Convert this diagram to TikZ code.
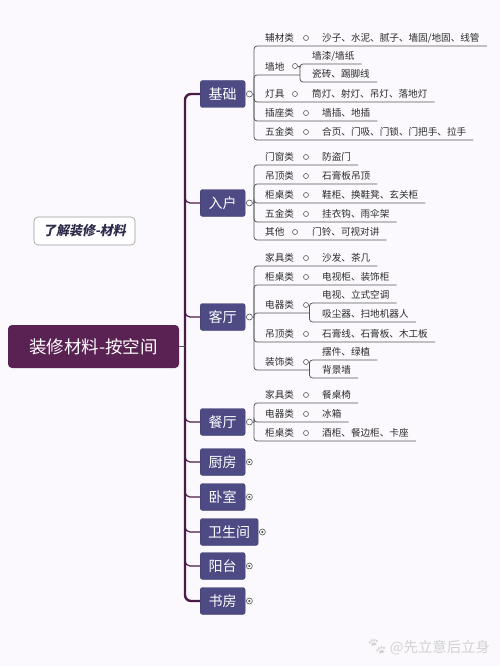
\documentclass[tikz,border=0pt]{standalone}
\usepackage{fontspec}
\setmainfont{Noto Sans CJK SC}
\newfontfamily\labelfont[FakeSlant=0.2]{Noto Sans CJK SC}
\newfontfamily\emojifont{Noto Emoji}
\definecolor{bgc}{HTML}{FBF9FD}
\definecolor{rootc}{HTML}{5A2153}
\definecolor{boxc}{HTML}{4D4A84}
\definecolor{boxd}{HTML}{3E3B70}
\definecolor{trunkc}{HTML}{4A1C45}
\definecolor{subc}{HTML}{555555}
\definecolor{txtc}{HTML}{2B2B2B}
\definecolor{labc}{HTML}{2E2C4C}
\tikzset{
  rootbox/.style={fill=rootc, rounded corners=4pt, text=white, inner sep=0pt,
    minimum width=171pt, minimum height=43pt, font=\fontsize{17.5}{18}\selectfont},
  labbox/.style={fill=white, draw=gray!80, line width=0.6pt, rounded corners=4pt,
    minimum width=101pt, minimum height=28pt, inner sep=0pt, text=labc,
    font=\fontsize{13}{14}\selectfont\labelfont\bfseries},
  brbox/.style={fill=boxc, draw=boxd, line width=0.4pt, rounded corners=2.5pt, text=white,
    inner xsep=8pt, inner ysep=0pt, minimum width=45pt, minimum height=27pt,
    anchor=west, font=\fontsize{14}{14}\selectfont},
  bmark/.style={circle, draw=subc, fill=white, line width=0.6pt, inner sep=0pt, minimum size=6pt},
  cmark/.style={bmark, path picture={\fill[subc] (path picture bounding box.center) circle (1.2pt);}},
  lmark/.style={circle, draw=subc, fill=white, line width=0.6pt, inner sep=0pt, minimum size=5pt},
  cat/.style={anchor=west, inner sep=0pt, text=txtc, font=\fontsize{9.6}{10}\selectfont},
  trunk/.style={draw=trunkc, line width=2.4pt},
  branch/.style={draw=trunkc, line width=1.2pt},
  rootlink/.style={draw=subc, line width=0.7pt},
  sub/.style={draw=subc, line width=0.75pt, rounded corners=3pt},
  wm/.style={text=gray!35, inner sep=0pt, font=\fontsize{14.4}{15}\selectfont}
}
% name, junction, y, category, marker x, leaf x, leaf text
\newcommand{\leafrow}[7]{%
  \node[cat] (#1) at (265,#3) {#4};
  \node[lmark] (#1m) at (#5,#3) {};
  \node[cat] (#1l) at (#6,#3) {#7};
  \draw[sub] (#2) |- ([xshift=7pt,yshift=-8pt]#1l.east);
}
% name, junction, y, text, child junction
\newcommand{\catonly}[5]{%
  \node[cat] (#1) at (265,#3) {#4};
  \draw[sub] (#2) |- ([yshift=-8pt]#1.east -| #5);
}
% name, junction, y, x, text
\newcommand{\subleaf}[5]{%
  \node[cat] (#1) at (#4,#3) {#5};
  \draw[sub] (#2) |- ([xshift=7pt,yshift=-8pt]#1.east);
}
\begin{document}
\begin{tikzpicture}[x=1pt,y=-1pt]
\useasboundingbox[fill=bgc] (0,0) rectangle (500,666);

% root and label
\node[rootbox] (root) at (93.5,346.5) {装修材料-按空间};
\node[labbox] (lab) at (84.5,231) {了解装修-材料};

% branch boxes
\node[brbox] (jc) at (200,94) {基础};
\node[brbox] (rh) at (200,203) {入户};
\node[brbox] (kt) at (200,317) {客厅};
\node[brbox] (ct) at (200,422) {餐厅};
\node[brbox] (cf) at (200,462) {厨房};
\node[brbox] (ws) at (200,497) {卧室};
\node[brbox] (wsj) at (200,532) {卫生间};
\node[brbox] (yt) at (200,566) {阳台};
\node[brbox] (sf) at (200,601) {书房};

% trunk
\coordinate (tk) at (185,346.5);
\draw[trunk, rounded corners=6pt] (jc.west) -| (tk) |- (sf.west);
\draw[rootlink] (root.east) -- (tk);
\foreach \b in {rh,kt,ct,cf,ws,wsj,yt}{
  \draw[branch, rounded corners=5pt] ([yshift=10pt]\b.west -| tk) |- (\b.west);
}

% markers on branches
\node[bmark] (jcm) at ([xshift=4pt]jc.east) {};
\node[bmark] (rhm) at ([xshift=4pt]rh.east) {};
\node[bmark] (ktm) at ([xshift=4pt]kt.east) {};
\node[bmark] (ctm) at ([xshift=4pt]ct.east) {};
\node[cmark] (cfm) at ([xshift=4pt]cf.east) {};
\node[cmark] (wsm) at ([xshift=4pt]ws.east) {};
\node[cmark] (wsjm) at ([xshift=4pt]wsj.east) {};
\node[cmark] (ytm) at ([xshift=4pt]yt.east) {};
\node[cmark] (sfm) at ([xshift=4pt]sf.east) {};

% ---- 基础
\coordinate (jcj) at (254,94);
\draw[sub] (jcm.east) -- (jcj);
\leafrow{a1}{jcj}{38}{辅材类}{306}{322}{沙子、水泥、腻子、墙固/地固、线管}
\coordinate (a2j) at (300,66);
\catonly{a2}{jcj}{67}{墙地}{a2j}
\node[lmark] (a2m) at (295,66) {};
\draw[sub] (a2m.east) -- (a2j);
\subleaf{a21}{a2j}{56}{312}{墙漆/墙纸}
\subleaf{a22}{a2j}{74}{312}{瓷砖、踢脚线}
\leafrow{a3}{jcj}{94}{灯具}{295}{312}{筒灯、射灯、吊灯、落地灯}
\leafrow{a4}{jcj}{113}{插座类}{306}{322}{墙插、地插}
\leafrow{a5}{jcj}{132}{五金类}{306}{322}{合页、门吸、门锁、门把手、拉手}

% ---- 入户
\coordinate (rhj) at (254,203);
\draw[sub] (rhm.east) -- (rhj);
\leafrow{b1}{rhj}{157}{门窗类}{306}{322}{防盗门}
\leafrow{b2}{rhj}{176}{吊顶类}{306}{322}{石膏板吊顶}
\leafrow{b3}{rhj}{195}{柜桌类}{306}{322}{鞋柜、换鞋凳、玄关柜}
\leafrow{b4}{rhj}{214}{五金类}{306}{322}{挂衣钩、雨伞架}
\leafrow{b5}{rhj}{232}{其他}{295}{312}{门铃、可视对讲}

% ---- 客厅
\coordinate (ktj) at (254,317);
\draw[sub] (ktm.east) -- (ktj);
\leafrow{c1}{ktj}{258}{家具类}{306}{322}{沙发、茶几}
\leafrow{c2}{ktj}{277}{柜桌类}{306}{322}{电视柜、装饰柜}
\coordinate (c3j) at (309.5,305);
\catonly{c3}{ktj}{305}{电器类}{c3j}
\node[lmark] (c3m) at (306,305) {};
\subleaf{c31}{c3j}{295}{322}{电视、立式空调}
\subleaf{c32}{c3j}{314}{322}{吸尘器、扫地机器人}
\leafrow{c4}{ktj}{334}{吊顶类}{306}{322}{石膏线、石膏板、木工板}
\coordinate (c5j) at (309.5,362);
\catonly{c5}{ktj}{362}{装饰类}{c5j}
\node[lmark] (c5m) at (306,362) {};
\subleaf{c51}{c5j}{352}{322}{摆件、绿植}
\subleaf{c52}{c5j}{370}{322}{背景墙}

% ---- 餐厅
\coordinate (ctj) at (254,422);
\draw[sub] (ctm.east) -- (ctj);
\leafrow{d1}{ctj}{395}{家具类}{306}{322}{餐桌椅}
\leafrow{d2}{ctj}{414}{电器类}{306}{322}{冰箱}
\leafrow{d3}{ctj}{433}{柜桌类}{306}{322}{酒柜、餐边柜、卡座}

% watermark
\node[wm] (wmk) at (428,647) {{\emojifont\fontsize{17}{17}\selectfont 🐾}\,@先立意后立身};
\end{tikzpicture}
\end{document}
